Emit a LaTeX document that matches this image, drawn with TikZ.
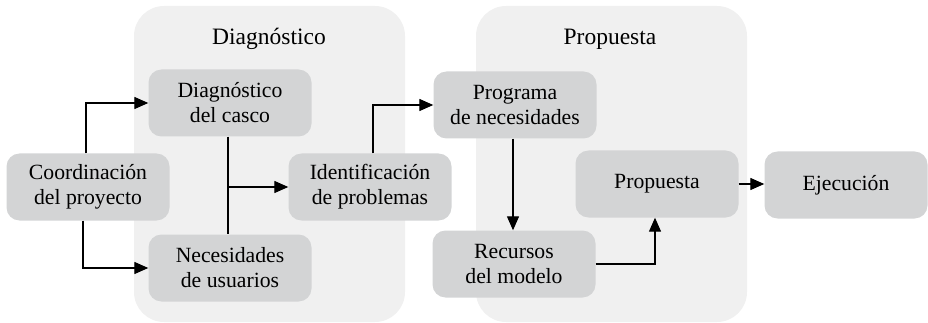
\documentclass[tikz,border=0pt]{standalone}
\usepackage{fontspec}
\newfontfamily\diagserif{LiberationSerif}[Extension=.ttf, UprightFont=*-Regular]
\usetikzlibrary{arrows.meta}
\definecolor{panelgray}{HTML}{F0F0F0}
\definecolor{boxgray}{HTML}{D3D4D5}
\begin{document}
\begin{tikzpicture}[x=1pt,y=-1pt,
  panel/.style={fill=panelgray, rounded corners=30pt, minimum width=271pt, minimum height=316pt, inner sep=0pt},
  box/.style={fill=boxgray, rounded corners=13pt, minimum width=163pt, minimum height=67pt, align=center, inner sep=0pt, font=\diagserif\fontsize{21.7}{25}\selectfont},
  paneltitle/.style={font=\diagserif\fontsize{23.5}{27}\selectfont, anchor=base, inner sep=0pt},
  conn/.style={line width=1.3pt, -{Triangle[length=14pt,width=12pt]}},
  plainline/.style={line width=1.3pt}]
\useasboundingbox (0,0) rectangle (928,323);
% panels
\node[panel] (pd) at (269.5,164) {};
\node[panel] (pp) at (611.5,164) {};
\node[paneltitle] (td) at (269,45) {Diagnóstico};
\node[paneltitle] (tp) at (610,45) {Propuesta};
% boxes
\node[box] (co) at (88,187) {Coordinación\\del proyecto};
\node[box] (dc) at (230,103) {Diagnóstico\\del casco};
\node[box] (nu) at (230,268) {Necesidades\\de usuarios};
\node[box] (id) at (370,187) {Identificación\\de problemas};
\node[box] (pn) at (515,105) {Programa\\de necesidades};
\node[box] (rm) at (514,264) {Recursos\\del modelo};
\node[box] (pr) at (657,184) {Propuesta};
\node[box] (ej) at (846,185) {Ejecución};
% connectors
\draw[conn] ([xshift=-2pt]co.north) |- (dc.west);
\draw[conn] ([xshift=-5pt]co.south) |- (nu.west);
\draw[plainline] ([xshift=-2pt]dc.south) -- ([xshift=-2pt]nu.north);
\draw[conn] ([xshift=-2pt]dc.south |- id.west) -- (id.west);
\draw[conn] ([xshift=3pt]id.north) |- (pn.west);
\draw[conn] ([xshift=-2pt]pn.south) -- ([xshift=-2pt]pn.south |- rm.north);
\draw[conn] (rm.east) -| ([xshift=-2pt]pr.south);
\draw[conn] (pr.east) -- (pr.east -| ej.west);
\end{tikzpicture}
\end{document}
